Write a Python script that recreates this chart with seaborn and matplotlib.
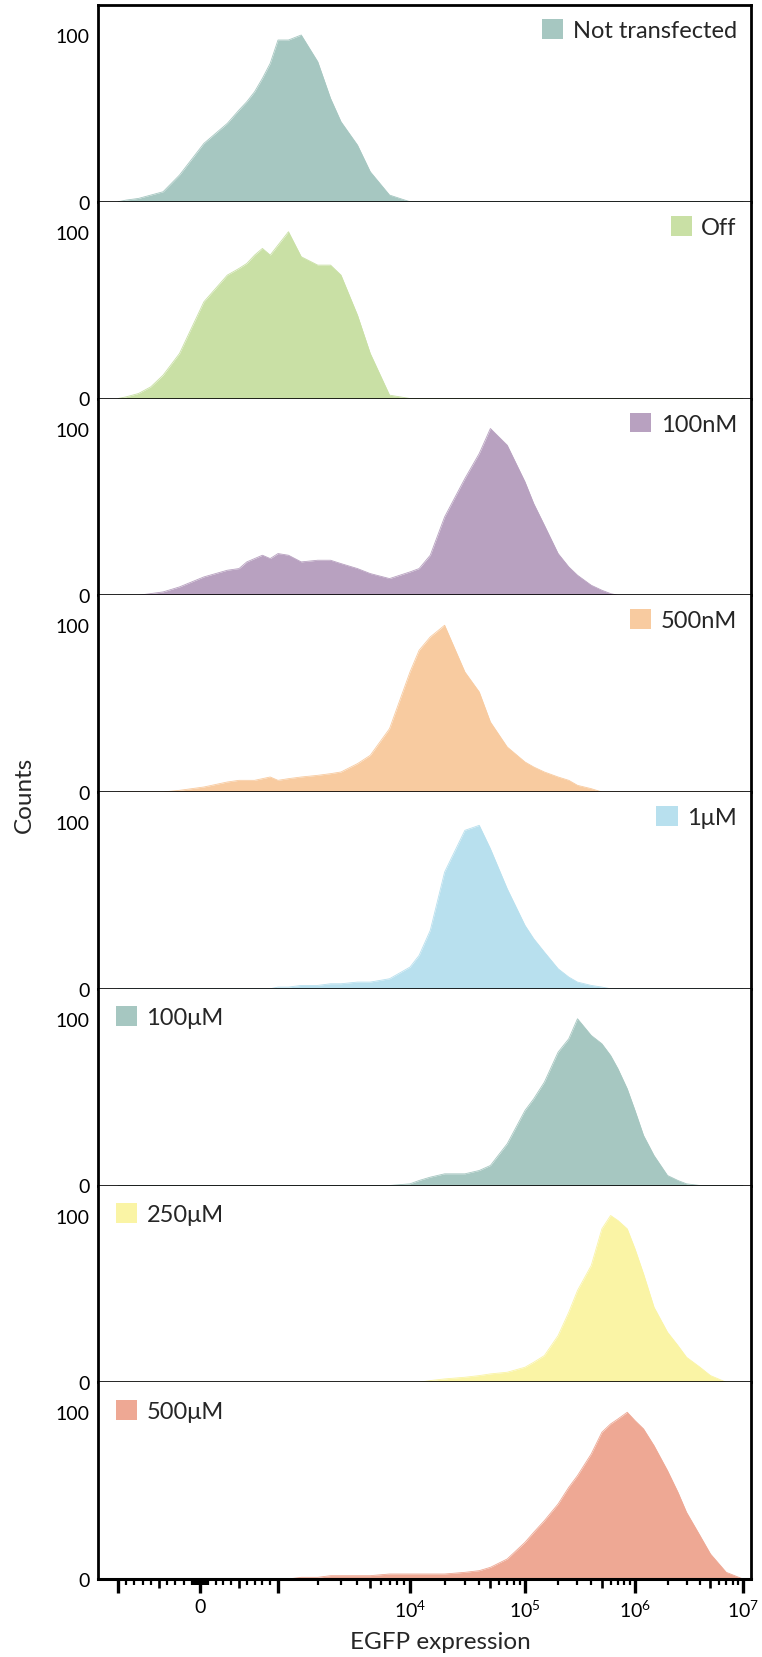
import numpy as np
import matplotlib
matplotlib.use('Agg')
import matplotlib.pyplot as plt
from matplotlib.patches import Patch
import seaborn as sns

# EGFP values at which the histogram outlines were read
egfp = [-1000, -900, -750, -600, -450, -250, 50, 350, 500, 600, 700, 800, 900, 1000,
        1200, 1500, 2000, 2500, 3000, 4000, 5000, 7000,
        1e4, 1.2e4, 1.5e4, 2e4, 3e4, 4e4, 5e4, 7e4,
        1e5, 1.2e5, 1.5e5, 2e5, 2.5e5, 3e5, 4e5, 5e5, 6e5, 7e5, 8.5e5,
        1e6, 1.2e6, 1.5e6, 2e6, 2.5e6, 3e6, 4e6, 5e6, 7e6, 1e7]

conditions = ['Not transfected', 'Off', '100nM', '500nM', '1\u03bcM',
              '100\u03bcM', '250\u03bcM', '500\u03bcM']
colors = ['#a6c7c1', '#c9e0a5', '#b8a1c0', '#f8cba0', '#b8e0ee',
          '#a6c7c1', '#faf4a5', '#eea894']

not_transfected = [0, 1, 2, 4, 6, 16, 35, 47, 55, 60, 66, 74, 83, 97,
                   97, 100, 84, 62, 48, 34, 18, 4,
                   0, 0, 0, 0, 0, 0, 0, 0,
                   0, 0, 0, 0, 0, 0, 0, 0, 0, 0, 0,
                   0, 0, 0, 0, 0, 0, 0, 0, 0, 0]
off = [0, 1, 3, 7, 14, 27, 58, 74, 78, 81, 86, 90, 86, 92,
       100, 85, 80, 80, 74, 50, 27, 2,
       0, 0, 0, 0, 0, 0, 0, 0,
       0, 0, 0, 0, 0, 0, 0, 0, 0, 0, 0,
       0, 0, 0, 0, 0, 0, 0, 0, 0, 0]
nm100 = [0, 0, 0, 1, 2, 5, 11, 15, 16, 20, 22, 24, 22, 25,
         24, 20, 21, 21, 19, 16, 13, 10,
         14, 16, 24, 47, 70, 85, 100, 90,
         68, 55, 42, 25, 17, 12, 6, 3, 1, 0, 0,
         0, 0, 0, 0, 0, 0, 0, 0, 0, 0]
nm500 = [0, 0, 0, 0, 0, 1, 3, 6, 7, 7, 7, 8, 9, 7,
         8, 9, 10, 11, 12, 17, 22, 38,
         72, 85, 93, 100, 72, 60, 42, 27,
         18, 15, 12, 9, 7, 4, 2, 0, 0, 0, 0,
         0, 0, 0, 0, 0, 0, 0, 0, 0, 0]
um1 = [0, 0, 0, 0, 0, 0, 0, 0, 0, 0, 0, 0, 0, 1,
       1, 2, 2, 3, 3, 4, 4, 6,
       13, 20, 35, 70, 95, 98, 84, 60,
       38, 30, 22, 12, 7, 4, 2, 1, 0, 0, 0,
       0, 0, 0, 0, 0, 0, 0, 0, 0, 0]
um100 = [0, 0, 0, 0, 0, 0, 0, 0, 0, 0, 0, 0, 0, 0,
         0, 0, 0, 0, 0, 0, 0, 0,
         1, 3, 5, 7, 7, 9, 12, 25,
         45, 52, 62, 80, 88, 100, 90, 85, 78, 70, 58,
         45, 30, 18, 6, 3, 1, 0, 0, 0, 0]
um250 = [0, 0, 0, 0, 0, 0, 0, 0, 0, 0, 0, 0, 0, 0,
         0, 0, 0, 0, 0, 0, 0, 0,
         0, 0, 1, 2, 3, 4, 5, 6,
         9, 12, 16, 28, 42, 55, 70, 92, 100, 97, 92,
         80, 65, 45, 30, 22, 15, 9, 4, 0, 0]
um500 = [0, 0, 0, 0, 0, 0, 0, 0, 0, 0, 0, 0, 0, 0,
         0, 1, 1, 2, 2, 2, 2, 3,
         3, 3, 3, 3, 4, 5, 7, 12,
         22, 28, 35, 45, 55, 62, 75, 88, 93, 96, 100,
         95, 90, 80, 65, 52, 40, 26, 15, 4, 0]
series = [not_transfected, off, nm100, nm500, um1, um100, um250, um500]

major_ticks = [-1000, 0, 1000, 1e4, 1e5, 1e6, 1e7]
major_labels = ['', '0', '', r'$10^{4}$', r'$10^{5}$', r'$10^{6}$', r'$10^{7}$']
mid_ticks = [-500, 500, 5000, 5e4, 5e5, 5e6]
minor_ticks = ([-900, -800, -700, -600, -400, -300, -200, -100]
               + [-80, -60, -40, -20, 20, 40, 60, 80]
               + [100, 200, 300, 400, 600, 700, 800, 900]
               + [m * 10 ** k for k in range(3, 7) for m in (2, 3, 4, 6, 7, 8, 9)])

# biexponential-like display: linear around zero, log above 10^3
U_ANCH = [-3, -2, -1, 0, 1, 2, 3, 4, 5, 6]
P_ANCH = [-102, 8, 118, 200, 278, 410, 525, 635, 743, 851]


def to_u(x):
    x = np.asarray(x, dtype=float)
    a = np.abs(x) / 1000
    u = np.where(a <= 1, a, 1 + np.log10(np.maximum(a, 1)))
    return np.sign(x) * u


def from_u(u):
    u = np.asarray(u, dtype=float)
    a = np.abs(u)
    v = np.where(a <= 1, a, 10 ** (np.maximum(a, 1) - 1))
    return np.sign(u) * v * 1000


def fwd(x):
    return np.interp(to_u(x), U_ANCH, P_ANCH)


def inv(p):
    return from_u(np.interp(p, P_ANCH, U_ANCH))


sns.set_style('white')
plt.rcParams['font.family'] = ['Lato', 'DejaVu Sans']
plt.rcParams['mathtext.default'] = 'regular'

fig, axes = plt.subplots(8, 1, figsize=(7.62, 16.58), dpi=100, sharex=True)
fig.subplots_adjust(left=98 / 762, right=751 / 762, top=1 - 6 / 1658,
                    bottom=1 - 1580 / 1658, hspace=0)

for i, ax in enumerate(axes):
    ax.set_xscale('function', functions=(fwd, inv))
    col = colors[i]
    sns.lineplot(x=egfp, y=series[i], ax=ax, color=col, lw=0.6)
    ax.fill_between(egfp, series[i], color=col, lw=0)
    ax.set_ylim(0, 118)
    ax.set_yticks([0, 100])
    ax.set_yticklabels(['0', '100'])
    ax.tick_params(axis='y', length=0, pad=6, labelsize=14, colors='black')
    for s in ['left', 'right']:
        ax.spines[s].set_linewidth(2)
        ax.spines[s].set_color('black')
    ax.spines['top'].set_visible(i == 0)
    ax.spines['top'].set_linewidth(2)
    ax.spines['top'].set_color('black')
    ax.spines['bottom'].set_color('black')
    ax.spines['bottom'].set_linewidth(2.2 if i == 7 else 1.2)

    handle = [Patch(facecolor=col, edgecolor='none', label=conditions[i])]
    if i < 5:
        ax.legend(handles=handle, loc='upper right', bbox_to_anchor=(1.0, 1.0),
                  frameon=False, fontsize=17, handlelength=0.9, handleheight=0.9,
                  handletextpad=0.4, borderaxespad=0.3, borderpad=0.3)
    else:
        ax.legend(handles=handle, loc='upper left', bbox_to_anchor=(0.0, 1.0),
                  frameon=False, fontsize=17, handlelength=0.9, handleheight=0.9,
                  handletextpad=0.4, borderaxespad=0.45, borderpad=0.3)
    ax.set_xlabel('')
    ax.set_ylabel('')

ax = axes[-1]
ax.set_xlim(inv(98), inv(751))
ax.set_xticks(mid_ticks + major_ticks)
ax.set_xticklabels([''] * len(mid_ticks) + major_labels)
ax.set_xticks(minor_ticks, minor=True)
ax.tick_params(axis='x', which='major', direction='out', length=10, width=2.4,
               labelsize=14, pad=4, colors='black', bottom=True)
ax.tick_params(axis='x', which='minor', direction='out', length=4, width=1.6,
               colors='black', bottom=True)
for t, v in zip(ax.xaxis.get_major_ticks(), mid_ticks + major_ticks):
    if v in mid_ticks:
        t.tick1line.set_markersize(6.5)
        t.tick1line.set_markeredgewidth(1.9)
for a in axes[:-1]:
    a.tick_params(axis='x', which='both', bottom=False, labelbottom=False)

fig.text(24 / 762, 1 - 795 / 1658, 'Counts', rotation=90, fontsize=17.5,
         ha='center', va='center')
fig.text(440 / 762, 1 - 1643 / 1658, 'EGFP expression', fontsize=17.5,
         ha='center', va='center')

fig.savefig('out.png', dpi=100)
